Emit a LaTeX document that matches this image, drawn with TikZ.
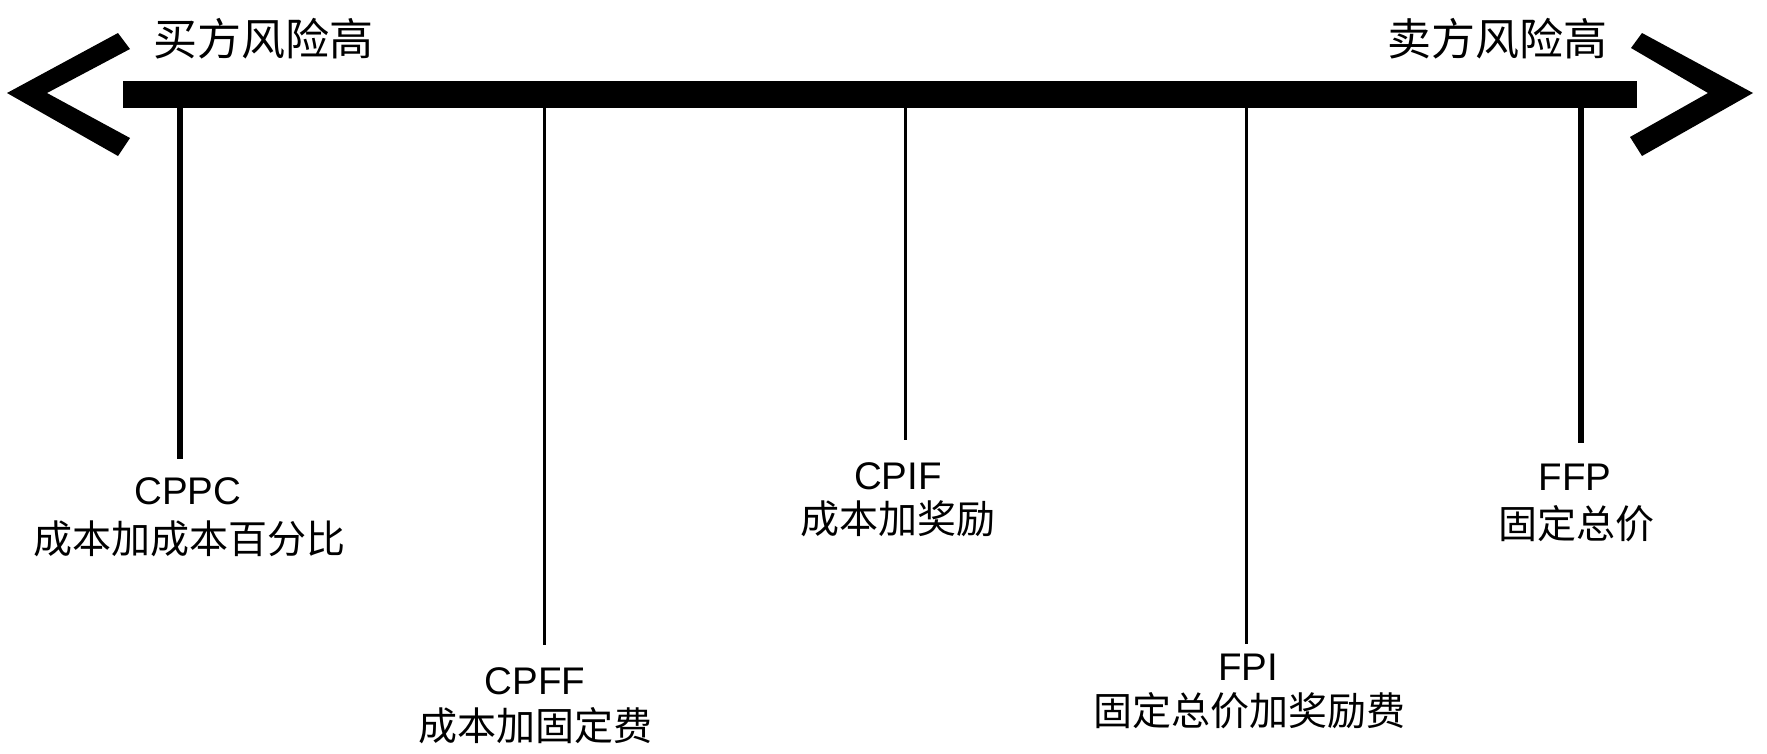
\documentclass[tikz,border=0pt]{standalone}
\usepackage{fontspec}
\setmainfont{Liberation Sans}
\newfontfamily\cjk{Noto Sans CJK SC}
\begin{document}
\begin{tikzpicture}[x=1pt,y=-1pt,
  lat/.style={font=\fontsize{38.5}{40}\selectfont, inner sep=0pt, anchor=base},
  han/.style={font=\cjk\fontsize{39}{40}\selectfont, inner sep=0pt, anchor=base},
  ttl/.style={font=\cjk\fontsize{44}{46}\selectfont, inner sep=0pt, anchor=base},
  major/.style={line width=6pt},
  minor/.style={line width=3pt},
  chev/.style={fill=black}]
\fill[white] (0,0) rectangle (1767,753);
\useasboundingbox (0,0) rectangle (1767,753);

% main bar
\node[fill=black, minimum width=1514pt, minimum height=27pt, inner sep=0pt, anchor=north west] (bar) at (123,81) {};

% chevrons
\fill[chev] (118,33) -- (130,49) -- (47,93) -- (130,138) -- (118,156) -- (7,93) -- cycle;
\fill[chev] (1642,33) -- (1631,48) -- (1708,93) -- (1630,137) -- (1642,156) -- (1753,93) -- cycle;

% titles
\node[ttl] (buyer) at (263,55) {买方风险高};
\node[ttl] (seller) at (1497,55) {卖方风险高};

% tick ends
\coordinate (e1) at (180,459);
\coordinate (e2) at (544,645);
\coordinate (e3) at (905,440);
\coordinate (e4) at (1246,644);
\coordinate (e5) at (1581,443);

\draw[major] (bar.south -| e1) -- (e1);
\draw[minor] (bar.south -| e2) -- (e2);
\draw[minor] (bar.south -| e3) -- (e3);
\draw[minor] (bar.south -| e4) -- (e4);
\draw[major] (bar.south -| e5) -- (e5);

% labels
\node[lat] (cppc) at (188,504) {CPPC};
\node[han] (cppcz) at (189,553) {成本加成本百分比};
\node[lat] (cpff) at (535,694) {CPFF};
\node[han] (cpffz) at (535,740) {成本加固定费};
\node[lat] (cpif) at (898,489) {CPIF};
\node[han] (cpifz) at (898,533) {成本加奖励};
\node[lat] (fpi) at (1248,680) {FPI};
\node[han] (fpiz) at (1249,725) {固定总价加奖励费};
\node[lat] (ffp) at (1575,490) {FFP};
\node[han] (ffpz) at (1576,538) {固定总价};
\end{tikzpicture}
\end{document}
